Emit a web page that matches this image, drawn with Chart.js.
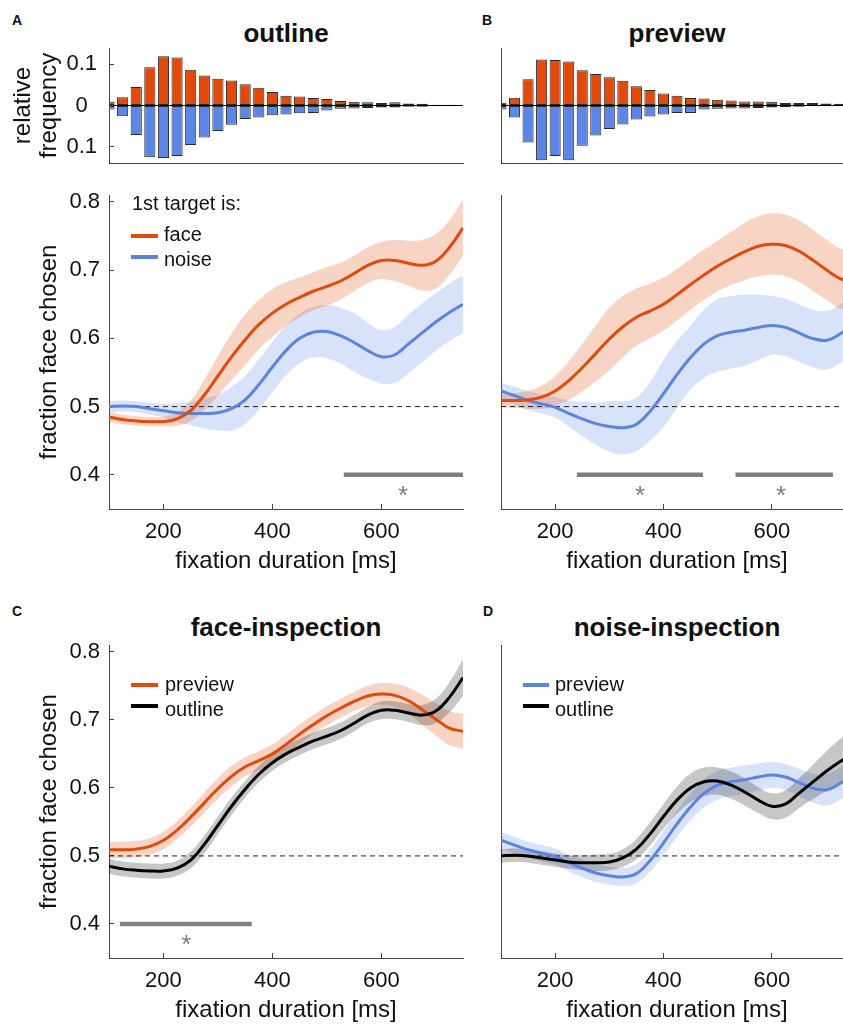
<!DOCTYPE html>
<html>
<head>
<meta charset="utf-8">
<script src="https://cdn.jsdelivr.net/npm/chart.js@4.4.1/dist/chart.umd.min.js"></script>
<style>
  html, body { margin: 0; padding: 0; width: 843px; height: 1024px; overflow: hidden; background: #fff; }
  body { position: relative; font-family: 'Liberation Sans', Arial, Helvetica, sans-serif; color: #111; }
  canvas { position: absolute; }
  .lbl { position: absolute; line-height: 1; white-space: nowrap; }
  .panel { font-weight: bold; font-size: 14px; }
  .title { font-weight: bold; font-size: 26px; transform: translateX(-50%); }
  .leg { font-size: 20px; }
  .swatch { position: absolute; height: 4px; }
</style>
</head>
<body>
<div class="lbl panel" style="left:12px;top:13px">A</div>
<div class="lbl panel" style="left:482px;top:13px">B</div>
<div class="lbl panel" style="left:12px;top:604px">C</div>
<div class="lbl panel" style="left:483px;top:604px">D</div>

<div class="lbl title" style="left:286px;top:20px">outline</div>
<div class="lbl title" style="left:677px;top:20px">preview</div>
<div class="lbl title" style="left:286px;top:614px">face-inspection</div>
<div class="lbl title" style="left:677px;top:614px">noise-inspection</div>

<canvas id="histA" width="475" height="130" style="left:0;top:40px"></canvas>
<canvas id="histB" width="380" height="130" style="left:490px;top:40px"></canvas>
<canvas id="lineA" width="475" height="420" style="left:0;top:170px"></canvas>
<canvas id="lineB" width="380" height="420" style="left:490px;top:170px"></canvas>
<canvas id="lineC" width="475" height="440" style="left:0;top:600px"></canvas>
<canvas id="lineD" width="380" height="440" style="left:490px;top:600px"></canvas>

<!-- legends -->
<div class="lbl leg" style="left:132px;top:193px">1st target is:</div>
<div class="swatch" style="left:131px;top:234px;width:27px;background:#e24a0c"></div>
<div class="lbl leg" style="left:164px;top:224px">face</div>
<div class="swatch" style="left:131px;top:255px;width:27px;background:#5b84e2"></div>
<div class="lbl leg" style="left:164px;top:249px">noise</div>

<div class="swatch" style="left:131px;top:683px;width:27px;background:#e24a0c"></div>
<div class="lbl leg" style="left:165px;top:674px">preview</div>
<div class="swatch" style="left:131px;top:704px;width:27px;background:#000"></div>
<div class="lbl leg" style="left:165px;top:699px">outline</div>

<div class="swatch" style="left:523px;top:683px;width:26px;background:#5b84e2"></div>
<div class="lbl leg" style="left:555px;top:674px">preview</div>
<div class="swatch" style="left:523px;top:704px;width:26px;background:#000"></div>
<div class="lbl leg" style="left:555px;top:699px">outline</div>

<script>
// fixation duration bins / sample points [ms]
const durations = [100,125,150,175,200,225,250,275,300,325,350,375,400,425,450,475,500,525,550,575,600,625,650,675,700,725,750];

// histograms: relative frequency (face up, noise down)
const faceFreqOutline  = [0.009,0.020,0.045,0.093,0.120,0.117,0.087,0.073,0.065,0.061,0.052,0.043,0.033,0.024,0.022,0.018,0.016,0.011,0.009,0.008,0.006,0.008,0.005,0.004,0.002,0.002,0.001];
const noiseFreqOutline = [0.010,0.026,0.072,0.126,0.128,0.123,0.096,0.078,0.062,0.047,0.033,0.029,0.024,0.022,0.019,0.018,0.012,0.008,0.007,0.006,0.005,0.005,0.003,0.003,0.002,0.002,0.001];
const faceFreqPreview  = [0.007,0.019,0.064,0.112,0.111,0.107,0.086,0.077,0.069,0.060,0.047,0.038,0.029,0.024,0.018,0.017,0.014,0.012,0.010,0.010,0.009,0.006,0.006,0.006,0.005,0.004,0.003];
const noiseFreqPreview = [0.010,0.029,0.090,0.133,0.123,0.133,0.098,0.073,0.057,0.046,0.034,0.027,0.022,0.018,0.018,0.010,0.008,0.007,0.007,0.006,0.005,0.004,0.003,0.002,0.002,0.002,0.001];

// fraction face chosen, first target face / noise
const faceOutline     = [0.485,0.481,0.479,0.478,0.478,0.482,0.494,0.517,0.545,0.573,0.598,0.620,0.637,0.650,0.660,0.669,0.676,0.684,0.695,0.707,0.714,0.714,0.710,0.707,0.713,0.733,0.762];
const faceOutlineErr  = [0.007,0.007,0.007,0.007,0.007,0.010,0.015,0.022,0.029,0.034,0.037,0.036,0.035,0.032,0.029,0.028,0.028,0.027,0.026,0.026,0.027,0.030,0.033,0.037,0.040,0.040,0.041];
const noiseOutline    = [0.500,0.501,0.500,0.497,0.494,0.491,0.490,0.490,0.491,0.497,0.510,0.532,0.558,0.582,0.600,0.609,0.610,0.604,0.594,0.582,0.573,0.576,0.592,0.608,0.624,0.638,0.650];
const noiseOutlineErr = [0.008,0.008,0.008,0.009,0.010,0.014,0.017,0.022,0.026,0.032,0.035,0.037,0.037,0.036,0.036,0.037,0.039,0.041,0.043,0.041,0.039,0.041,0.043,0.043,0.042,0.042,0.042];
const facePreview     = [0.509,0.509,0.510,0.514,0.523,0.538,0.557,0.578,0.599,0.617,0.631,0.640,0.650,0.664,0.679,0.693,0.706,0.717,0.727,0.735,0.738,0.736,0.728,0.715,0.701,0.688,0.683];
const facePreviewErr  = [0.010,0.011,0.013,0.017,0.022,0.028,0.035,0.041,0.046,0.045,0.042,0.040,0.039,0.038,0.037,0.037,0.037,0.039,0.042,0.044,0.045,0.045,0.045,0.045,0.044,0.044,0.044];
const noisePreview    = [0.523,0.516,0.509,0.504,0.499,0.490,0.482,0.475,0.471,0.469,0.474,0.493,0.519,0.547,0.572,0.592,0.604,0.609,0.612,0.616,0.619,0.616,0.608,0.600,0.597,0.606,0.620];
const noisePreviewErr = [0.012,0.013,0.014,0.014,0.015,0.019,0.025,0.031,0.037,0.039,0.039,0.043,0.049,0.049,0.047,0.050,0.053,0.053,0.052,0.048,0.043,0.042,0.042,0.042,0.043,0.043,0.043];

// within-inspection error bands (C, D)
const faceInspPreviewErr  = [0.012,0.012,0.012,0.012,0.013,0.013,0.014,0.015,0.015,0.015,0.014,0.014,0.014,0.014,0.014,0.014,0.014,0.014,0.014,0.015,0.016,0.017,0.019,0.022,0.024,0.025,0.026];
const faceInspOutlineErr  = [0.011,0.011,0.011,0.011,0.011,0.011,0.012,0.013,0.013,0.013,0.012,0.012,0.012,0.012,0.012,0.012,0.012,0.012,0.012,0.012,0.013,0.013,0.013,0.015,0.018,0.022,0.027];
const noiseInspPreviewErr = [0.012,0.012,0.012,0.012,0.012,0.012,0.013,0.013,0.013,0.013,0.014,0.016,0.018,0.019,0.020,0.021,0.021,0.021,0.021,0.020,0.019,0.019,0.020,0.021,0.023,0.024,0.025];
const noiseInspOutlineErr = [0.010,0.010,0.010,0.010,0.010,0.010,0.011,0.012,0.012,0.013,0.015,0.017,0.018,0.020,0.021,0.021,0.020,0.020,0.020,0.019,0.019,0.020,0.022,0.025,0.029,0.033,0.037];

// significance clusters [ms]
const sigStartA = [531], sigEndA = [750], sigStarA = [640];
const sigStartB = [240, 533], sigEndB = [473, 713], sigStarB = [357, 617];
const sigStartC = [120], sigEndC = [362], sigStarC = [242];
const sigLevel = 0.4, starLevel = 0.38, chanceLevel = 0.5;

// ticks
const xTicks = [200, 400, 600];
const yTicks = [0.4, 0.5, 0.6, 0.7, 0.8];
const freqTicks = [-0.1, 0, 0.1];
const freqTickLabels = ['0.1', '0', '0.1'];

const ORANGE = '#e24a0c';
const BLUE = '#5b84e2';
const BLUE_BAR = '#5b86e5';
const ORANGE_BAND = 'rgba(226, 74, 12, 0.24)';
const BLUE_BAND = 'rgba(91, 132, 226, 0.24)';
const GRAY_BAND = 'rgba(0, 0, 0, 0.22)';
const AXIS = '#444';
const TEXT = '#111';
const NONE = 'rgba(0,0,0,0)';

Chart.defaults.font.family = "'Liberation Sans', Arial, Helvetica, sans-serif";
Chart.defaults.color = TEXT;

// draws the significance asterisks under the grey bars
Chart.register({
  id: 'sigStars',
  afterDatasetsDraw(chart, args, opts) {
    if (!opts || !opts.xs) return;
    const { ctx, scales: { x, y } } = chart;
    ctx.save();
    ctx.fillStyle = '#7f7f7f';
    ctx.font = "26px 'Liberation Sans', Arial, sans-serif";
    ctx.textAlign = 'center';
    ctx.textBaseline = 'alphabetic';
    opts.xs.forEach(v => ctx.fillText('*', x.getPixelForValue(v), y.getPixelForValue(opts.y) + 15));
    ctx.restore();
  }
});

function pts(ys) {
  return durations.map((x, i) => ({ x: x, y: ys[i] }));
}

function lineDs(ys, color) {
  return { data: pts(ys), borderColor: color, borderWidth: 3, pointRadius: 0, tension: 0.4, fill: false };
}

function bandDs(ys, err, color) {
  return [
    { data: pts(ys.map((v, i) => v + err[i])), borderColor: NONE, borderWidth: 0, pointRadius: 0, tension: 0.4, fill: '+1', backgroundColor: color },
    { data: pts(ys.map((v, i) => v - err[i])), borderColor: NONE, borderWidth: 0, pointRadius: 0, tension: 0.4, fill: false }
  ];
}

function chanceDs() {
  return { data: [{ x: 100, y: chanceLevel }, { x: 750, y: chanceLevel }], borderColor: '#222', borderWidth: 1, borderDash: [5, 4], pointRadius: 0, fill: false };
}

function sigDs(starts, ends) {
  return starts.map((s, i) => ({
    data: [{ x: s, y: sigLevel }, { x: ends[i], y: sigLevel }],
    borderColor: '#7f7f7f', borderWidth: 4.5, borderCapStyle: 'butt', pointRadius: 0, fill: false
  }));
}

// fixed axis size, and no extra room for the end labels
function fixWidth(width) {
  return s => { s.width = width; s.paddingTop = 0; s.paddingBottom = 0; };
}

function xAxis() {
  return {
    type: 'linear', min: 100, max: 750,
    afterBuildTicks: s => { s.ticks = xTicks.map(v => ({ value: v })); },
    grid: { display: true, drawOnChartArea: false, tickLength: -5, color: AXIS },
    border: { display: true, color: AXIS },
    ticks: { padding: 15, font: { size: 22 }, color: TEXT, maxRotation: 0 },
    title: { display: true, text: 'fixation duration [ms]', font: { size: 24 }, color: TEXT, padding: { top: 0, bottom: 8 } },
    afterFit: s => { s.height = 75; }
  };
}

function yAxis(showLabels, width) {
  return {
    min: 0.35, max: 0.81,
    afterBuildTicks: s => { s.ticks = yTicks.map(v => ({ value: v })); },
    grid: { display: showLabels, drawOnChartArea: false, tickLength: -5, color: AXIS },
    border: { display: true, color: AXIS },
    ticks: { display: showLabels, padding: 14, font: { size: 22 }, color: TEXT, callback: v => v.toFixed(1) },
    title: { display: showLabels, text: 'fraction face chosen', font: { size: 24 }, color: TEXT, padding: { top: 34.6, bottom: 0 } },
    afterFit: fixWidth(width)
  };
}

function lineChart(id, datasets, showY, yWidth, pad, stars) {
  new Chart(document.getElementById(id), {
    type: 'line',
    data: { datasets: datasets },
    options: {
      responsive: false,
      animation: false,
      events: [],
      layout: { padding: pad },
      plugins: {
        legend: { display: false },
        tooltip: { enabled: false },
        sigStars: { xs: stars, y: starLevel }
      },
      scales: { x: xAxis(), y: yAxis(showY, yWidth) }
    }
  });
}

function histChart(id, faceF, noiseF, showY, yWidth, pad) {
  const barStyle = { borderColor: '#2a2a2a', borderWidth: 1, borderSkipped: false, grouped: false, barPercentage: 0.82, categoryPercentage: 1 };
  new Chart(document.getElementById(id), {
    type: 'bar',
    data: {
      datasets: [
        Object.assign({ data: durations.map((x, i) => ({ x: x, y: faceF[i] })), backgroundColor: ORANGE }, barStyle),
        Object.assign({ data: durations.map((x, i) => ({ x: x, y: -noiseF[i] })), backgroundColor: BLUE_BAR }, barStyle)
      ]
    },
    options: {
      responsive: false,
      animation: false,
      events: [],
      layout: { padding: pad },
      plugins: { legend: { display: false }, tooltip: { enabled: false } },
      scales: {
        x: {
          type: 'linear', min: 100, max: 750, offset: false,
          grid: { display: false },
          border: { display: true, color: AXIS },
          ticks: { display: false },
          afterFit: s => { s.height = 1; }
        },
        y: {
          min: -0.14, max: 0.14,
          afterBuildTicks: s => { s.ticks = freqTicks.map(v => ({ value: v })); },
          grid: {
            display: true, drawTicks: showY, tickLength: -5, tickColor: AXIS,
            color: c => (c.tick && c.tick.value === 0 ? '#000' : NONE)
          },
          border: { display: true, color: AXIS },
          ticks: { display: showY, padding: 17, crossAlign: 'center', font: { size: 22 }, color: TEXT, callback: (v, i) => freqTickLabels[i] },
          title: { display: showY, text: ['relative', 'frequency'], font: { size: 24, lineHeight: 1.1 }, color: TEXT, padding: { top: 10, bottom: 0 } },
          afterFit: fixWidth(yWidth)
        }
      }
    }
  });
}

// A/B top: fixation duration histograms
histChart('histA', faceFreqOutline, noiseFreqOutline, true, 109, { top: 8, right: 12, bottom: 6, left: 0 });
histChart('histB', faceFreqPreview, noiseFreqPreview, false, 11, { top: 8, right: 17, bottom: 6, left: 0 });

// A: outline
lineChart('lineA', [
  lineDs(faceOutline, ORANGE),
  lineDs(noiseOutline, BLUE),
  chanceDs(),
  ...sigDs(sigStartA, sigEndA),
  ...bandDs(faceOutline, faceOutlineErr, ORANGE_BAND),
  ...bandDs(noiseOutline, noiseOutlineErr, BLUE_BAND)
], true, 109, { top: 25, right: 12, bottom: 6, left: 0 }, sigStarA);

// B: preview
lineChart('lineB', [
  lineDs(facePreview, ORANGE),
  lineDs(noisePreview, BLUE),
  chanceDs(),
  ...sigDs(sigStartB, sigEndB),
  ...bandDs(facePreview, facePreviewErr, ORANGE_BAND),
  ...bandDs(noisePreview, noisePreviewErr, BLUE_BAND)
], false, 11, { top: 25, right: 17, bottom: 6, left: 0 }, sigStarB);

// C: face-inspection
lineChart('lineC', [
  lineDs(faceOutline, '#000'),
  lineDs(facePreview, ORANGE),
  chanceDs(),
  ...sigDs(sigStartC, sigEndC),
  ...bandDs(faceOutline, faceInspOutlineErr, GRAY_BAND),
  ...bandDs(facePreview, faceInspPreviewErr, ORANGE_BAND)
], true, 109, { top: 45, right: 12, bottom: 7, left: 0 }, sigStarC);

// D: noise-inspection
lineChart('lineD', [
  lineDs(noiseOutline, '#000'),
  lineDs(noisePreview, BLUE),
  chanceDs(),
  ...bandDs(noiseOutline, noiseInspOutlineErr, GRAY_BAND),
  ...bandDs(noisePreview, noiseInspPreviewErr, BLUE_BAND)
], false, 11, { top: 45, right: 17, bottom: 7, left: 0 }, []);
</script>
</body>
</html>
